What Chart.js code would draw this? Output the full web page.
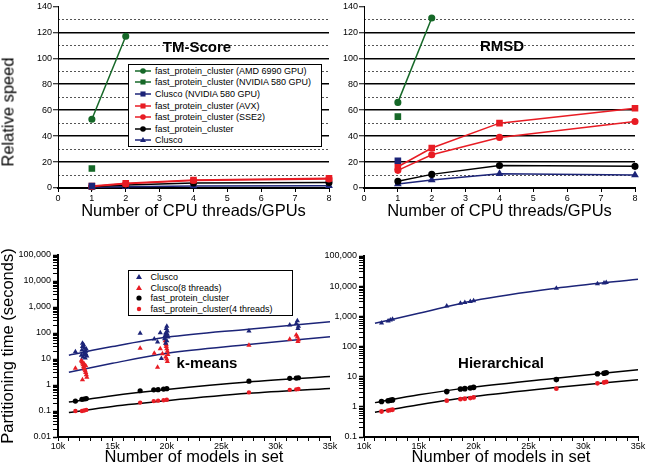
<!DOCTYPE html>
<html>
<head>
<meta charset="utf-8">
<script src="https://cdn.jsdelivr.net/npm/chart.js@4"></script>
<style>
  body { margin: 0; background: #fff; width: 647px; height: 466px; position: relative; overflow: hidden;
         font-family: 'Liberation Sans', Arial, Helvetica, sans-serif; color: #000; }
  canvas { position: absolute; left: 0; top: 0; }
  .lbl { position: absolute; font-weight: bold; font-size: 15px; transform: translate(-50%, -50%); white-space: nowrap; color: #000; }
  .ytitle { position: absolute; font-size: 16.5px; transform: translate(-50%, -50%) rotate(-90deg); white-space: nowrap; color: #000; }
  .legend { position: absolute; background: #fff; border: 1.5px solid #000; box-sizing: border-box; font-size: 9px; color: #000; }
  .legend .row { display: flex; align-items: center; white-space: nowrap; }
  .legend svg { flex: none; }
</style>
</head>
<body>
<canvas id="tm" width="647" height="466"></canvas>
<canvas id="rmsd" width="647" height="466"></canvas>
<canvas id="kmeans" width="647" height="466"></canvas>
<canvas id="hier" width="647" height="466"></canvas>

<div class="ytitle" style="left:8px; top:112px">Relative speed</div>
<div class="lbl" style="left:197px; top:46px">TM-Score</div>
<div class="lbl" style="left:502px; top:45px">RMSD</div>
<div class="lbl" style="left:207px; top:362px">k-means</div>
<div class="lbl" style="left:501px; top:362px">Hierarchical</div>
<div class="legend" id="legTop" style="left:128px; top:64px; width:194px; height:83px; padding-top:0px"></div>
<div class="legend" id="legBottom" style="left:128px; top:270px; width:165px; height:46px; padding-top:1px"></div>

<script>
// ---- top panels: relative speed vs threads ----
const speedLabels = [
  'fast_protein_cluster (AMD 6990 GPU)',
  'fast_protein_cluster (NVIDIA 580 GPU)',
  'Clusco (NVIDIA 580 GPU)',
  'fast_protein_cluster (AVX)',
  'fast_protein_cluster (SSE2)',
  'fast_protein_cluster',
  'Clusco'
];
const threads = [1, 2, 4, 8];
const gpuCount = [1, 2];
const singleGpu = [1];

const tmAmdGpu = [53, 117];
const tmNvidiaGpu = [15];
const tmCluscoGpu = [1.5];
const tmAvx = [1.5, 3.6, 6.2, 7.5];
const tmSse2 = [1.2, 3.2, 5.8, 7.0];
const tmFpc = [0.9, 2.3, 3.8, 4.3];
const tmClusco = [0.5, 1.0, 1.6, 1.8];

const rmsdAmdGpu = [66, 131];
const rmsdNvidiaGpu = [55];
const rmsdCluscoGpu = [21];
const rmsdAvx = [16.4, 30.8, 50, 61.5];
const rmsdSse2 = [13.6, 25.6, 39, 51.3];
const rmsdFpc = [5.2, 10.5, 17.4, 16.7];
const rmsdClusco = [3, 6.2, 11, 10];

const speedTicks = [0, 20, 40, 60, 80, 100, 120, 140];
const speedMinorTicks = [10, 30, 50, 70, 90, 110, 130];
const threadTicks = [0, 1, 2, 3, 4, 5, 6, 7, 8];

// ---- bottom panels: partitioning time vs set size ----
const setSizes = [11600, 12200, 12400, 12600, 17550, 18800, 19200, 19700, 20000, 27550, 31300, 31900, 32100];

const kmCluscoX = [11600, 12150, 12200, 12250, 12300, 12350, 12400, 12450, 12500, 12550, 12600, 12650, 12250, 12400, 12550,
  17550, 18850, 19150, 19400, 19500, 19800, 19850, 19900, 19950, 20000, 20050, 20100, 20000, 19900, 20050,
  27550, 31300, 31900, 32000, 32100, 32050];
const kmCluscoY = [19, 14, 22, 30, 12, 35, 18, 26, 11, 16, 24, 13, 40, 15, 20,
  97, 59, 45, 102, 10.5, 60, 80, 100, 150, 180, 120, 70, 50, 40, 90,
  120, 204, 230, 295, 180, 150];
const kmClusco8X = [11600, 12150, 12200, 12250, 12300, 12350, 12400, 12450, 12500, 12550, 12600, 12650, 12250, 12400, 12550,
  17550, 18850, 19150, 19400, 19600, 19850, 19900, 19950, 20000, 20050, 20100, 19900, 20000, 20050, 19950,
  27550, 31300, 31900, 32000, 32100, 32050];
const kmClusco8Y = [4.4, 9, 8, 7, 6, 5, 4.5, 4, 3.5, 3, 2.5, 2, 1.6, 6.5, 5.5,
  26, 16.6, 4.8, 25, 16, 50, 40, 30, 25, 20, 15, 12, 10, 8, 35,
  34, 58, 84, 70, 55, 47];
const kmFpc = [0.24, 0.28, 0.29, 0.30, 0.6, 0.65, 0.66, 0.7, 0.72, 1.4, 1.8, 1.85, 1.9];
const kmFpc4 = [0.1, 0.1, 0.105, 0.11, 0.21, 0.24, 0.25, 0.26, 0.27, 0.52, 0.65, 0.68, 0.7];

const fitX = [11000, 15000, 20000, 27500, 35000];
const kmCluscoFit = [14, 30, 68, 140, 272];
const kmClusco8Fit = [3.1, 6.8, 16.6, 36, 72];
const kmFpcFit = [0.22, 0.39, 0.67, 1.3, 2.1];
const kmFpc4Fit = [0.088, 0.15, 0.25, 0.48, 0.74];

const hcClusco = [600, 700, 750, 800, 2200, 2700, 2900, 3100, 3300, 8500, 12000, 12800, 13200];
const hcFpc = [1.5, 1.6, 1.65, 1.7, 3.2, 3.9, 4.0, 4.2, 4.4, 8, 12.5, 13, 13.5];
const hcFpc4 = [0.7, 0.75, 0.78, 0.8, 1.6, 1.8, 1.85, 1.95, 2.05, 4.0, 6.0, 6.4, 6.7];
const hcCluscoFit = [590, 1260, 3300, 8500, 17000];
const hcFpcFit = [1.38, 2.5, 4.5, 8.9, 17];
const hcFpc4Fit = [0.66, 1.17, 2.2, 4.4, 7.9];

const timeLabels = ['Clusco', 'Clusco(8 threads)', 'fast_protein_cluster', 'fast_protein_cluster(4 threads)'];
const modelTicks = [];
for (let v = 10000; v <= 35000; v += 1000) modelTicks.push(v);

// ---- styling ----
const FONT = "'Liberation Sans', Arial, Helvetica, sans-serif";
const GREEN = 'rgb(22,104,40)', RED = 'rgb(232,28,36)', NAVY = 'rgb(28,36,120)', BLACK = '#000';
const tickFont = { family: FONT, size: 9 };
const titleFont = { family: FONT, size: 16.5, lineHeight: 1 };

const speedStyles = [
  { color: GREEN, style: 'circle', r: 2.8 },
  { color: GREEN, style: 'rect', r: 3.6 },
  { color: NAVY, style: 'rect', r: 3.6 },
  { color: RED, style: 'rect', r: 3.6 },
  { color: RED, style: 'circle', r: 2.8 },
  { color: BLACK, style: 'circle', r: 2.8 },
  { color: NAVY, style: 'triangle', r: 3 }
];
const speedX = [gpuCount, singleGpu, singleGpu, threads, threads, threads, threads];

function speedDatasets(values) {
  return speedStyles.map((s, i) => ({
    label: speedLabels[i],
    data: speedX[i].map((x, j) => ({ x: x, y: values[i][j] })),
    borderColor: s.color,
    backgroundColor: s.color,
    pointStyle: s.style,
    pointRadius: s.r,
    pointHoverRadius: s.r,
    borderWidth: 1.5,
    showLine: true,
    clip: false
  }));
}

const setTicks = arr => s => { s.ticks = arr.map(v => ({ value: v })); };

function speedOptions(padLeft, padRight) {
  return {
    responsive: false,
    animation: false,
    events: [],
    layout: { padding: { left: padLeft, right: padRight, top: 6, bottom: 238 } },
    plugins: { legend: { display: false }, tooltip: { enabled: false } },
    scales: {
      x: {
        type: 'linear', min: 0, max: 8,
        afterBuildTicks: setTicks(threadTicks),
        ticks: { font: tickFont, color: '#000', padding: 1, maxRotation: 0, autoSkip: false },
        grid: { drawOnChartArea: false, tickLength: 4, tickColor: '#000', tickWidth: 1 },
        border: { color: '#000', width: 2 },
        title: { display: true, text: 'Number of CPU threads/GPUs', font: titleFont, color: '#000', padding: { top: 0, bottom: 8 } },
        afterFit: s => { s.height = 40; }
      },
      y: {
        type: 'linear', min: 0, max: 140,
        afterBuildTicks: setTicks(speedTicks),
        ticks: { font: tickFont, color: '#000', padding: 1, autoSkip: false },
        grid: {
          color: c => (c.tick && c.tick.value > 0 && c.tick.value < 140) ? '#000' : 'rgba(0,0,0,0)',
          lineWidth: 1.5, tickLength: 5, tickColor: '#000', tickWidth: 1
        },
        border: { display: true, color: '#000', width: 1 },
        afterFit: s => { s.width = 58; }
      },
      y2: {
        type: 'linear', position: 'right', min: 0, max: 140,
        afterBuildTicks: setTicks(speedMinorTicks),
        ticks: { display: false },
        grid: { color: '#555', lineWidth: 1, drawTicks: false },
        border: { display: false, dash: [2, 2] },
        afterFit: s => { s.width = 0; }
      }
    }
  };
}

const tmChart = new Chart(document.getElementById('tm'), {
  type: 'scatter',
  data: { datasets: speedDatasets([tmAmdGpu, tmNvidiaGpu, tmCluscoGpu, tmAvx, tmSse2, tmFpc, tmClusco]) },
  options: speedOptions(0, 318)
});
new Chart(document.getElementById('rmsd'), {
  type: 'scatter',
  data: { datasets: speedDatasets([rmsdAmdGpu, rmsdNvidiaGpu, rmsdCluscoGpu, rmsdAvx, rmsdSse2, rmsdFpc, rmsdClusco]) },
  options: speedOptions(306, 12)
});

// ---- bottom charts ----
const pts = (xs, ys) => xs.map((x, i) => ({ x: x, y: ys[i] }));
function scatterSet(label, xs, ys, color, style, r) {
  return { label: label, data: pts(xs, ys), backgroundColor: color, borderColor: color, borderWidth: 0,
           pointStyle: style, pointRadius: r, pointHoverRadius: r, showLine: false, clip: false };
}
function fitSet(ys, color) {
  return { label: '', data: pts(fitX, ys), borderColor: color, borderWidth: 1.5, pointRadius: 0,
           showLine: true, cubicInterpolationMode: 'monotone', clip: false };
}
function logTicks(lo, hi) {
  const out = [];
  for (let e = lo; e <= hi; e++) {
    for (let m = 1; m <= 9; m++) {
      if (e === hi && m > 1) break;
      out.push(Number((m * Math.pow(10, e)).toPrecision(6)));
    }
  }
  return out;
}
const isDecade = v => Math.abs(Math.log10(v) - Math.round(Math.log10(v))) < 1e-9;

function timeOptions(padLeft, padRight, top, loExp, showYTitle) {
  return {
    responsive: false,
    animation: false,
    events: [],
    layout: { padding: { left: padLeft, right: padRight, top: top, bottom: 0 } },
    plugins: { legend: { display: false }, tooltip: { enabled: false } },
    scales: {
      x: {
        type: 'linear', min: 10000, max: 35000,
        afterBuildTicks: setTicks(modelTicks),
        ticks: { font: tickFont, color: '#000', padding: 0, maxRotation: 0, autoSkip: false,
                 callback: v => v % 5000 === 0 ? (v / 1000) + 'k' : '' },
        grid: { drawOnChartArea: false, tickLength: 4, tickColor: '#000', tickWidth: 1 },
        border: { color: '#000', width: 2 },
        title: { display: true, text: 'Number of models in set', font: titleFont, color: '#000', padding: 0 },
        afterFit: s => { s.height = 29; }
      },
      y: {
        type: 'logarithmic', min: Math.pow(10, loExp), max: 100000,
        afterBuildTicks: setTicks(logTicks(loExp, 5)),
        ticks: { font: tickFont, color: '#000', padding: 2, autoSkip: false,
                 callback: v => isDecade(v) ? v.toLocaleString('en-US') : '' },
        grid: { drawOnChartArea: false, tickLength: 5, tickColor: '#000',
                tickWidth: c => (c.tick && isDecade(c.tick.value)) ? 1.5 : 1 },
        border: { color: '#000', width: 2 },
        title: { display: showYTitle, text: 'Partitioning time (seconds)', font: titleFont, color: '#000', padding: 0 },
        afterFit: s => { s.width = 58; }
      }
    }
  };
}

const kmChart = new Chart(document.getElementById('kmeans'), {
  type: 'scatter',
  data: { datasets: [
    scatterSet(timeLabels[0], kmCluscoX, kmCluscoY, NAVY, 'triangle', 3),
    scatterSet(timeLabels[1], kmClusco8X, kmClusco8Y, RED, 'triangle', 3),
    scatterSet(timeLabels[2], setSizes, kmFpc, BLACK, 'circle', 2.6),
    scatterSet(timeLabels[3], setSizes, kmFpc4, RED, 'circle', 2.2),
    fitSet(kmCluscoFit, NAVY),
    fitSet(kmClusco8Fit, NAVY),
    fitSet(kmFpcFit, BLACK),
    fitSet(kmFpc4Fit, BLACK)
  ] },
  options: timeOptions(0, 317, 255, -2, true)
});

new Chart(document.getElementById('hier'), {
  type: 'scatter',
  data: { datasets: [
    scatterSet(timeLabels[0], setSizes, hcClusco, NAVY, 'triangle', 3),
    scatterSet(timeLabels[2], setSizes, hcFpc, BLACK, 'circle', 2.8),
    scatterSet(timeLabels[3], setSizes, hcFpc4, RED, 'circle', 2.4),
    fitSet(hcCluscoFit, NAVY),
    fitSet(hcFpcFit, BLACK),
    fitSet(hcFpc4Fit, BLACK)
  ] },
  options: timeOptions(306, 9, 256, -1, false)
});

// ---- HTML legends built from the chart datasets ----
function markerSvg(ds, cx, cy) {
  const c = ds.backgroundColor, r = ds.pointRadius;
  if (ds.pointStyle === 'circle') return `<circle cx="${cx}" cy="${cy}" r="${r}" fill="${c}"/>`;
  if (ds.pointStyle === 'rect') { const h = r * Math.SQRT1_2; return `<rect x="${cx - h}" y="${cy - h}" width="${2 * h}" height="${2 * h}" fill="${c}"/>`; }
  const w = r * Math.sqrt(3) / 2;
  return `<polygon points="${cx},${cy - r} ${cx - w * 1.15},${cy + r / 2 + 0.5} ${cx + w * 1.15},${cy + r / 2 + 0.5}" fill="${c}"/>`;
}
function buildLegend(el, datasets, withLine, rowH, iconW, gap) {
  datasets.forEach(ds => {
    const row = document.createElement('div');
    row.className = 'row';
    row.style.height = rowH + 'px';
    const line = withLine ? `<line x1="0" y1="5" x2="${iconW}" y2="5" stroke="${ds.borderColor}" stroke-width="1.5"/>` : '';
    row.innerHTML = `<svg width="${iconW}" height="10" style="margin-left:6px;margin-right:${gap}px">${line}${markerSvg(ds, iconW / 2, 5)}</svg><span>${ds.label}</span>`;
    el.appendChild(row);
  });
}
buildLegend(document.getElementById('legTop'), tmChart.data.datasets, true, 11.6, 16, 4);
buildLegend(document.getElementById('legBottom'), kmChart.data.datasets.slice(0, 4), false, 10.5, 8, 7.5);
</script>
</body>
</html>
